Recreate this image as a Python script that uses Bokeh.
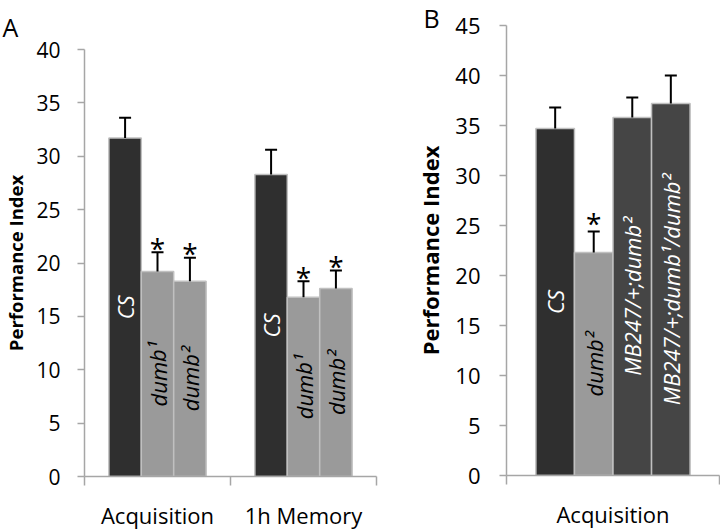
from bokeh.plotting import figure
from bokeh.models import (Range1d, FixedTicker, Whisker, TeeHead,
                          ColumnDataSource)
from bokeh.layouts import row, column
from bokeh.embed import file_html
from bokeh.resources import INLINE
from bokeh.core.properties import value

# ---------------- data: panel A ----------------
groups_a = ["Acquisition", "1h Memory"]
genotypes_a = ["CS", "dumb¹", "dumb²"]
acq_mean_a = [31.7, 19.2, 18.3]
acq_err_a = [1.9, 1.8, 2.2]
mem_mean_a = [28.3, 16.8, 17.6]
mem_err_a = [2.3, 1.5, 1.7]
acq_sig_a = [False, True, True]
mem_sig_a = [False, True, True]
yticks_a = [0, 5, 10, 15, 20, 25, 30, 35, 40]

# ---------------- data: panel B ----------------
groups_b = ["Acquisition"]
genotypes_b = ["CS", "dumb²", "MB247/+;dumb²", "MB247/+;dumb¹/dumb²"]
acq_mean_b = [34.7, 22.3, 35.8, 37.2]
acq_err_b = [2.1, 2.1, 2.0, 2.8]
acq_sig_b = [False, True, False, False]
yticks_b = [0, 5, 10, 15, 20, 25, 30, 35, 40, 45]

# ---------------- styles ----------------
DARK = "#2f2f2f"
DARK2 = "#454545"
GREY = "#9a9a9a"
fills_a = [DARK, GREY, GREY]
textcol_a = ["white", "black", "black"]
fills_b = [DARK, GREY, DARK2, DARK2]
textcol_b = ["white", "black", "white", "white"]
AXIS_COL = "#a6a6a6"
FONT = "Open Sans"


def make_panel(groups, genotypes, means, errs, sigs, yticks, fills, tcols,
               width, height, bl, br, bt, bb, step, tick_fs, ylab_fs,
               ylab_standoff, tick_standoff, star_gap, letter, t_off, t_stand,
               t_valign):
    n = len(genotypes)
    xs, tops, uppers, half, labels, fc, tc = [], [], [], [], [], [], []
    sx, sy = [], []
    for g in range(len(groups)):
        for i in range(n):
            x = g + 0.5 + (i - (n - 1) / 2) * step
            xs.append(x)
            tops.append(means[g][i])
            uppers.append(means[g][i] + errs[g][i])
            half.append(means[g][i] / 2)
            labels.append(genotypes[i])
            fc.append(fills[i])
            tc.append(tcols[i])
            if sigs[g][i]:
                sx.append(x)
                sy.append(means[g][i] + errs[g][i] + star_gap)
    src = ColumnDataSource(dict(x=xs, top=tops, upper=uppers, half=half,
                                label=labels, fill=fc, tcol=tc))
    ssrc = ColumnDataSource(dict(x=sx, y=sy, t=["*"] * len(sx)))

    p = figure(width=width, height=height, output_backend="svg",
               toolbar_location=None,
               x_range=Range1d(0, len(groups)),
               y_range=Range1d(yticks[0], yticks[-1]),
               min_border_left=bl, min_border_right=br,
               min_border_top=bt, min_border_bottom=bb)
    p.outline_line_color = None
    p.grid.grid_line_color = None
    p.background_fill_color = "white"
    p.border_fill_color = "white"

    p.title.text = letter
    p.title.align = "left"
    p.title.vertical_align = t_valign
    p.title.offset = t_off
    p.title.standoff = t_stand
    p.title.text_font = FONT
    p.title.text_font_size = "25px"
    p.title.text_font_style = "normal"
    p.title.text_color = "black"

    p.vbar(x="x", top="top", bottom=0, width=step, source=src,
           fill_color="fill", line_color="#c0c0c0", line_width=1.5)

    w = Whisker(source=src, base="x", upper="upper", lower="top",
                dimension="height", line_color="black", line_width=2,
                upper_head=TeeHead(size=12, line_width=2, line_color="black"),
                lower_head=None, level="overlay")
    p.add_layout(w)

    p.text(x="x", y="half", text="label", source=src, angle=1.5708,
           text_align="center", text_baseline="middle",
           text_color="tcol", text_font=value(FONT),
           text_font_style="italic", text_font_size="22px")

    p.text(x="x", y="y", text="t", source=ssrc, text_align="center",
           text_baseline="alphabetic", text_color="black",
           text_font=value(FONT), text_font_size="28px")

    ya = p.yaxis[0]
    ya.ticker = FixedTicker(ticks=yticks)
    ya.axis_label = "Performance Index"
    ya.axis_label_text_font = FONT
    ya.axis_label_text_font_style = "bold"
    ya.axis_label_text_font_size = ylab_fs
    ya.axis_label_text_color = "black"
    ya.axis_label_standoff = ylab_standoff
    ya.major_label_text_font = FONT
    ya.major_label_text_font_size = tick_fs
    ya.major_label_text_color = "black"
    ya.major_label_standoff = tick_standoff
    ya.axis_line_color = AXIS_COL
    ya.axis_line_width = 1.5
    ya.major_tick_line_color = AXIS_COL
    ya.major_tick_line_width = 1.5
    ya.major_tick_out = 7
    ya.major_tick_in = 0
    ya.minor_tick_line_color = None

    xa = p.xaxis[0]
    centres = [g + 0.5 for g in range(len(groups))]
    bounds = [g for g in range(len(groups) + 1)]
    xa.ticker = FixedTicker(ticks=centres, minor_ticks=bounds)
    xa.major_label_overrides = {c: name for c, name in zip(centres, groups)}
    xa.major_label_text_font = FONT
    xa.major_label_text_font_size = "22px"
    xa.major_label_text_color = "black"
    xa.major_label_standoff = 14
    xa.major_tick_out = 0
    xa.major_tick_in = 0
    xa.minor_tick_out = 9
    xa.minor_tick_in = 0
    xa.minor_tick_line_color = AXIS_COL
    xa.minor_tick_line_width = 1.5
    xa.axis_line_color = AXIS_COL
    xa.axis_line_width = 1.5
    return p


pa = make_panel(groups_a, genotypes_a, [acq_mean_a, mem_mean_a],
                [acq_err_a, mem_err_a], [acq_sig_a, mem_sig_a], yticks_a,
                fills_a, textcol_a, width=410, height=532,
                bl=84, br=34, bt=49, bb=55, step=0.222,
                tick_fs="21px", ylab_fs="18.5px", ylab_standoff=5,
                tick_standoff=17, star_gap=0.4, letter="A", t_off=-82,
                t_stand=7, t_valign="top")

pb = make_panel(groups_b, genotypes_b, [acq_mean_b], [acq_err_b],
                [acq_sig_b], yticks_b, fills_b, textcol_b,
                width=310, height=532, bl=96, br=1, bt=25, bb=57,
                step=0.181, tick_fs="22px", ylab_fs="22px", ylab_standoff=7,
                tick_standoff=19, star_gap=0.9, letter="B", t_off=-83,
                t_stand=-18, t_valign="bottom")

layout = row(column(pa), column(pb))
open("out.html", "w").write(file_html(layout, INLINE))
